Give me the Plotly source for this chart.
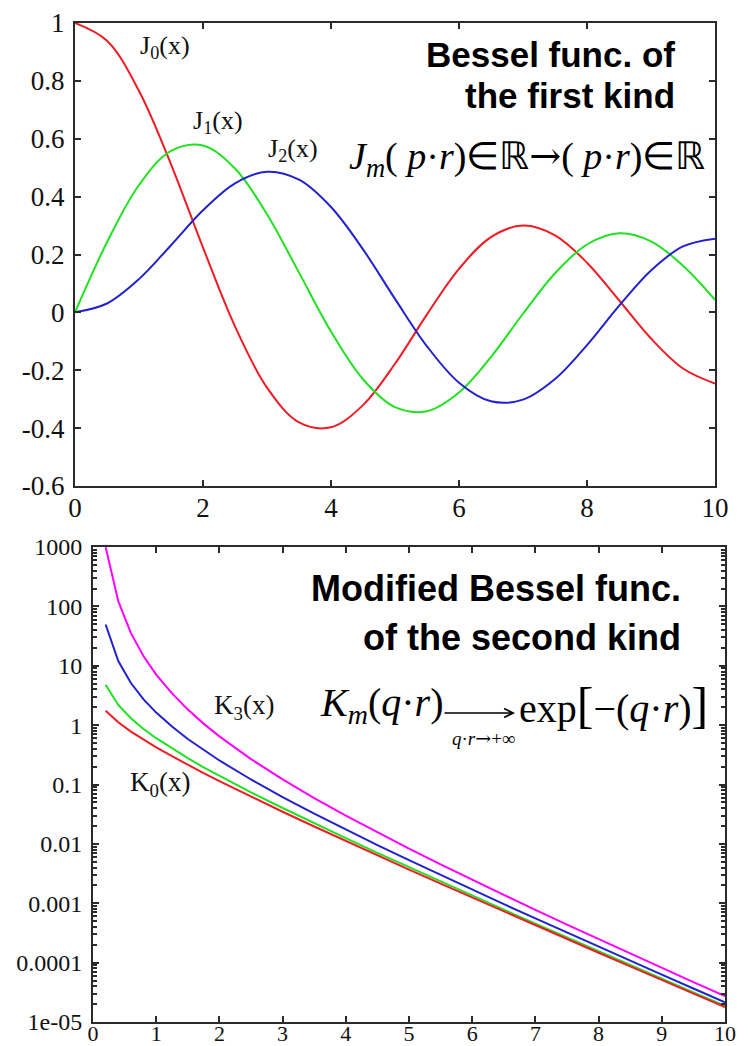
import plotly.graph_objects as go

# ---- Bessel functions of the first kind, sampled on [0, 10] ----
x_j = [0, 0.5, 1, 1.5, 2, 2.5, 3, 3.5, 4, 4.5, 5, 5.5, 6, 6.5, 7, 7.5, 8, 8.5, 9, 9.5, 10]
j0 = [1.0, 0.9385, 0.7652, 0.5118, 0.2239, -0.0484, -0.2601, -0.3801, -0.3971, -0.3205,
      -0.1776, -0.0068, 0.1506, 0.2601, 0.3001, 0.2663, 0.1717, 0.0419, -0.0903, -0.1939, -0.2459]
j1 = [0.0, 0.2423, 0.4401, 0.5579, 0.5767, 0.4971, 0.3391, 0.1374, -0.0660, -0.2311,
      -0.3276, -0.3414, -0.2767, -0.1538, -0.0047, 0.1352, 0.2346, 0.2731, 0.2453, 0.1613, 0.0435]
j2 = [0.0, 0.0306, 0.1149, 0.2321, 0.3528, 0.4461, 0.4861, 0.4586, 0.3641, 0.2178,
      0.0466, -0.1173, -0.2429, -0.3074, -0.3014, -0.2303, -0.1130, 0.0223, 0.1448, 0.2279, 0.2546]

# ---- Modified Bessel functions of the second kind, sampled on [0.2, 10] ----
x_k = [0.2, 0.4, 0.6, 0.8, 1.0, 1.25, 1.5, 1.75, 2.0, 2.5, 3, 3.5, 4, 4.5, 5,
       5.5, 6, 6.5, 7, 7.5, 8, 8.5, 9, 9.5, 10]
k0 = [1.7527, 1.1145, 0.7775, 0.5653, 0.4210, 0.2993, 0.2138, 0.1554, 0.1139, 0.06235,
      0.03474, 0.01960, 0.01116, 0.006400, 0.003691, 0.002139, 0.001244, 0.000726,
      0.0004248, 0.0002492, 0.0001465, 0.0000863, 0.00005088, 0.00003006, 0.00001778]
k1 = [4.7760, 2.1844, 1.3028, 0.8618, 0.6019, 0.4035, 0.2774, 0.1950, 0.13987, 0.07389,
      0.04016, 0.02224, 0.01248, 0.007078, 0.004045, 0.002326, 0.001344, 0.0007801,
      0.0004542, 0.0002653, 0.0001554, 0.0000913, 0.00005364, 0.0000316, 0.00001865]
k2 = [49.51, 12.04, 5.120, 2.720, 1.6248, 0.9449, 0.5837, 0.3783, 0.2538, 0.12146,
      0.06151, 0.03231, 0.01740, 0.009546, 0.005309, 0.002985, 0.001692, 0.000966,
      0.0005546, 0.0003199, 0.0001854, 0.0001078, 0.0000628, 0.0000367, 0.0000215]
k3 = [995.0, 122.6, 35.44, 14.46, 7.101, 3.427, 1.834, 1.060, 0.6475, 0.2682,
      0.1222, 0.05917, 0.02988, 0.01556, 0.008292, 0.004497, 0.002472, 0.001374,
      0.0007711, 0.0004359, 0.0002481, 0.000142, 0.0000815, 0.0000471, 0.0000273]

# tick labels
top_x_ticks = [0, 2, 4, 6, 8, 10]
top_y_ticks = [1, 0.8, 0.6, 0.4, 0.2, 0, -0.2, -0.4, -0.6]
top_y_labels = ["1", "0.8", "0.6", "0.4", "0.2", "0", "-0.2", "-0.4", "-0.6"]
bot_x_ticks = [0, 1, 2, 3, 4, 5, 6, 7, 8, 9, 10]
bot_y_ticks = [1000, 100, 10, 1, 0.1, 0.01, 0.001, 0.0001, 0.00001]
bot_y_labels = ["1000", "100", "10", "1", "0.1", "0.01", "0.001", "0.0001", "1e-05"]

W, H = 748, 1046
RED, GREEN, BLUE, MAGENTA = "#ee1c25", "#22e022", "#2222cc", "#ff00ff"
AXIS = "#2a2a2a"
SERIF = "Liberation Serif, Times New Roman, serif"
SANS = "Liberation Sans, Arial, sans-serif"


def px(x):
    return x / W


def py(y):
    return 1 - y / H


fig = go.Figure()

for ys, c in [(j0, RED), (j1, GREEN), (j2, BLUE)]:
    fig.add_trace(go.Scatter(x=x_j, y=ys, mode="lines", xaxis="x", yaxis="y",
                             line=dict(color=c, width=2, shape="spline", smoothing=1.0),
                             hoverinfo="skip"))

for ys, c in [(k3, MAGENTA), (k2, BLUE), (k1, GREEN), (k0, RED)]:
    fig.add_trace(go.Scatter(x=x_k, y=ys, mode="lines", xaxis="x2", yaxis="y2",
                             line=dict(color=c, width=2), hoverinfo="skip"))

axis_common = dict(showline=True, linecolor=AXIS, linewidth=2, mirror="ticks",
                   ticks="inside", ticklen=6, tickwidth=2, tickcolor=AXIS,
                   showgrid=False, zeroline=False, automargin=False)

minor_vals = [m * 10 ** d for d in range(-5, 3) for m in range(2, 10)]

fig.update_layout(
    width=W, height=H,
    margin=dict(l=0, r=0, t=0, b=0, pad=0),
    paper_bgcolor="white", plot_bgcolor="white",
    font=dict(family=SERIF, color="#111"),
    showlegend=False,
    xaxis=dict(domain=[px(75), px(715)], anchor="y", range=[0, 10],
               tickmode="array", tickvals=top_x_ticks,
               tickfont=dict(family=SERIF, size=27, color="#111"),
               ticklabelstandoff=-3, **axis_common),
    yaxis=dict(domain=[py(486), py(23)], anchor="x", range=[-0.6, 1],
               tickmode="array", tickvals=top_y_ticks, ticktext=top_y_labels,
               tickfont=dict(family=SERIF, size=27, color="#111"),
               ticklabelstandoff=3, **axis_common),
    xaxis2=dict(domain=[px(93), px(725)], anchor="y2", range=[0, 10],
                tickmode="array", tickvals=bot_x_ticks,
                tickfont=dict(family=SERIF, size=22, color="#111"),
                ticklabelstandoff=-9, **axis_common),
    yaxis2=dict(domain=[py(1022), py(547)], anchor="x2", type="log", range=[-5, 3],
                tickmode="array", tickvals=bot_y_ticks, ticktext=bot_y_labels,
                tickfont=dict(family=SERIF, size=24, color="#111"),
                ticklabelstandoff=4,
                minor=dict(ticks="inside", ticklen=4, tickwidth=1.5, tickcolor=AXIS,
                           tickmode="array", tickvals=minor_vals),
                **axis_common),
)


def note(text, x, y, size, family=SERIF, xanchor="center", yanchor="middle", color="#111"):
    fig.add_annotation(text=text, x=px(x), y=py(y), xref="paper", yref="paper",
                       xanchor=xanchor, yanchor=yanchor, showarrow=False,
                       font=dict(family=family, size=size, color=color))


# curve labels
note("J<sub>0</sub>(x)", 165, 47, 26)
note("J<sub>1</sub>(x)", 218, 122, 26)
note("J<sub>2</sub>(x)", 293, 150, 26)
note("K<sub>3</sub>(x)", 244, 707, 27)
note("K<sub>0</sub>(x)", 160, 784, 27)

# panel titles
note("<b>Bessel func. of</b>", 677, 55, 35, family=SANS, xanchor="right", color="#000")
note("<b>the first kind</b>", 677, 96, 35, family=SANS, xanchor="right", color="#000")
note("<b>Modified Bessel func.</b>", 683, 588, 36, family=SANS, xanchor="right", color="#000")
note("<b>of the second kind</b>", 683, 637, 36, family=SANS, xanchor="right", color="#000")

# formulas
ARROW = "<span style='font-family:DejaVu Serif'>→</span>"
note("<i>J</i><sub><i>m</i></sub>( <i>p</i>·<i>r</i>)∈ℝ" + ARROW + "( <i>p</i>·<i>r</i>)∈ℝ",
     707, 158, 38, xanchor="right", color="#000")
note("<i>K</i><sub><i>m</i></sub>(<i>q</i>·<i>r</i>)", 318, 705, 40, xanchor="left", color="#000")
note("<i>q</i>·<i>r</i>" + ARROW + "+∞", 483, 738, 19, color="#000")
note("exp<span style='font-size:50px'>[</span>−(<i>q</i>·<i>r</i>)<span style='font-size:50px'>]</span>",
     710, 705, 40, xanchor="right", color="#000")

# long arrow of the limit
fig.add_annotation(x=px(515), y=py(713), ax=-72, ay=0,
                   xref="paper", yref="paper", axref="pixel", ayref="pixel",
                   text="", showarrow=True, arrowhead=5, arrowsize=1.1,
                   arrowwidth=1.6, arrowcolor="#000")

fig.write_html("out.html")
